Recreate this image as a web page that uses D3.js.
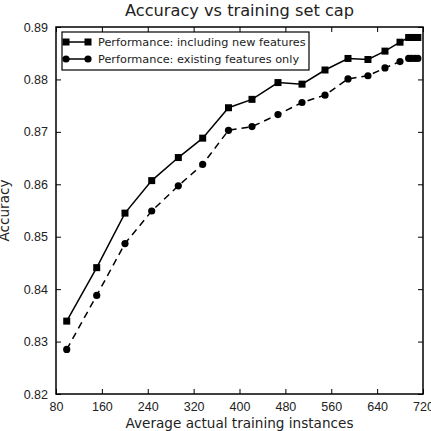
<!DOCTYPE html>
<html>
<head>
<meta charset="utf-8">
<script src="https://cdn.jsdelivr.net/npm/d3@7"></script>
<style>
  body { margin: 0; background: #fff; }
  svg { font-family: "DejaVu Sans", sans-serif; }
</style>
</head>
<body>
<div id="chart"></div>
<script>
// average training instances per cap
const instances = [98.7, 151, 200.3, 246.9, 293.3, 335.8, 380.8, 421.8, 467.1, 509, 549.1, 589.2, 624, 653.7, 679.9, 695, 700, 706, 711];
const accNew = [0.8339, 0.8441, 0.8545, 0.8607, 0.8651, 0.8688, 0.8746, 0.8762, 0.8794, 0.8791, 0.8818, 0.8840, 0.8838, 0.8854, 0.8871, 0.8880, 0.8880, 0.8880, 0.8880];
const accOld = [0.8285, 0.8388, 0.8487, 0.8549, 0.8597, 0.8638, 0.8703, 0.8710, 0.8733, 0.8756, 0.8770, 0.8801, 0.8807, 0.8822, 0.8834, 0.8840, 0.8840, 0.8840, 0.8840];
const xTicks = [80, 160, 240, 320, 400, 480, 560, 640, 720];
const yTicks = [0.82, 0.83, 0.84, 0.85, 0.86, 0.87, 0.88, 0.89];
const seriesNames = ["Performance: including new features", "Performance: existing features only"];

const W = 431, H = 431;
const margin = {top: 27, right: 8, bottom: 37, left: 56};
const width = W - margin.left - margin.right;
const height = H - margin.top - margin.bottom;

const svg = d3.select("#chart").append("svg")
  .attr("width", W).attr("height", H);

const g = svg.append("g")
  .attr("transform", `translate(${margin.left},${margin.top})`);

const x = d3.scaleLinear().domain([80, 720]).range([0, width]);
const y = d3.scaleLinear().domain([0.82, 0.89]).range([height, 0]);

// axes, ticks pointing inward on all four sides
const tickLen = 5;
const xAxis = d3.axisBottom(x).tickValues(xTicks).tickSizeInner(-tickLen).tickSizeOuter(0).tickPadding(8).tickFormat(d3.format("d"));
const xAxisTop = d3.axisTop(x).tickValues(xTicks).tickSizeInner(-tickLen).tickSizeOuter(0).tickFormat("");
const yAxis = d3.axisLeft(y).tickValues(yTicks).tickSizeInner(-tickLen).tickSizeOuter(0).tickPadding(8).tickFormat(d3.format(".2f"));
const yAxisRight = d3.axisRight(y).tickValues(yTicks).tickSizeInner(-tickLen).tickSizeOuter(0).tickFormat("");

function styleAxis(sel) {
  sel.select(".domain").remove();
  sel.selectAll(".tick line").attr("stroke", "#000").attr("stroke-width", 1);
  sel.selectAll(".tick text").attr("fill", "#222").style("font-size", "12.5px");
}

g.append("g").attr("transform", `translate(0,${height})`).call(xAxis).call(styleAxis);
g.append("g").call(xAxisTop).call(styleAxis);
g.append("g").call(yAxis).call(styleAxis);
g.append("g").attr("transform", `translate(${width},0)`).call(yAxisRight).call(styleAxis);

const line = d3.line().x(d => x(d[0])).y(d => y(d[1]));
const dataNew = instances.map((v, i) => [v, accNew[i]]);
const dataOld = instances.map((v, i) => [v, accOld[i]]);

g.append("path").datum(dataNew).attr("d", line)
  .attr("fill", "none").attr("stroke", "#000").attr("stroke-width", 1.5);
g.append("path").datum(dataOld).attr("d", line)
  .attr("fill", "none").attr("stroke", "#000").attr("stroke-width", 1.5)
  .attr("stroke-dasharray", "7,5");

const ms = 7;
g.selectAll(".sq").data(dataNew).enter().append("rect")
  .attr("x", d => x(d[0]) - ms / 2).attr("y", d => y(d[1]) - ms / 2)
  .attr("width", ms).attr("height", ms).attr("fill", "#000");
g.selectAll(".dot").data(dataOld).enter().append("circle")
  .attr("cx", d => x(d[0])).attr("cy", d => y(d[1]))
  .attr("r", 3.6).attr("fill", "#000");

// frame
g.append("rect").attr("width", width).attr("height", height)
  .attr("fill", "none").attr("stroke", "#000").attr("stroke-width", 1.5);

// legend
const leg = g.append("g").attr("transform", "translate(6,5)");
leg.append("rect").attr("width", 247).attr("height", 38)
  .attr("fill", "#fff").attr("stroke", "#000").attr("stroke-width", 1.2);
seriesNames.forEach((name, i) => {
  const ly = 10 + i * 17;
  const row = leg.append("g").attr("transform", `translate(0,${ly})`);
  row.append("line").attr("x1", 4).attr("x2", 26).attr("stroke", "#000").attr("stroke-width", 1.5);
  [4, 26].forEach(cx => {
    if (i === 0) {
      row.append("rect").attr("x", cx - ms / 2).attr("y", -ms / 2).attr("width", ms).attr("height", ms).attr("fill", "#000");
    } else {
      row.append("circle").attr("cx", cx).attr("r", 3.6).attr("fill", "#000");
    }
  });
  row.append("text").attr("x", 36).attr("dy", "0.35em")
    .style("font-size", "11.3px").attr("fill", "#222").text(name);
});

// titles
svg.append("text").attr("x", margin.left + width / 2).attr("y", 16)
  .attr("text-anchor", "middle").style("font-size", "16.2px").attr("fill", "#222")
  .text("Accuracy vs training set cap");
svg.append("text").attr("x", margin.left + width / 2).attr("y", 428)
  .attr("text-anchor", "middle").style("font-size", "13.6px").attr("fill", "#222")
  .text("Average actual training instances");
svg.append("text").attr("transform", `translate(9,${margin.top + height / 2}) rotate(-90)`)
  .attr("text-anchor", "middle").style("font-size", "13.6px").attr("fill", "#222")
  .text("Accuracy");
</script>
</body>
</html>
